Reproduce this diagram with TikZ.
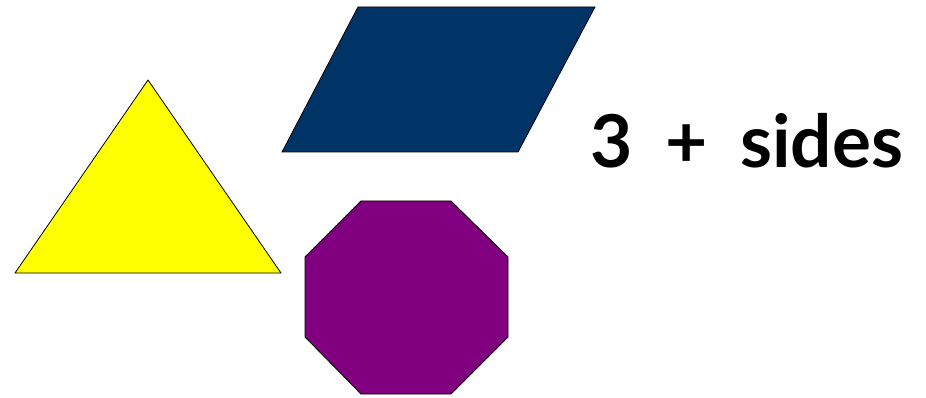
\documentclass[tikz,border=0pt]{standalone}
\usepackage{fontspec}
\setmainfont{Lato}
\definecolor{lemon}{RGB}{255,255,0}
\definecolor{navy}{RGB}{0,51,102}
\definecolor{plum}{RGB}{128,0,128}
\begin{document}
\begin{tikzpicture}[x=1pt,y=-1pt]
    \useasboundingbox (0,0) rectangle (926,398);
    % Shapes
    \draw[line width=0.8pt, fill=lemon] (148,80) -- (281,273) -- (15,273) -- cycle;
    \draw[line width=0.8pt, fill=navy] (358,7) -- (595,7) -- (518,152) -- (282,152) -- cycle;
    \draw[line width=0.8pt, fill=plum] (361,201) -- (451,201) -- (508,257) -- (508,337)
        -- (451,394) -- (361,394) -- (305,337) -- (305,257) -- cycle;
    
    % Label
    \node[anchor=base west, inner sep=0pt, font=\fontsize{78}{90}\selectfont\bfseries] (sides) at (590,168)
        {\resizebox{313pt}{!}{3\hspace{0.45em}+\hspace{0.45em}sides}};
\end{tikzpicture}
\end{document}
